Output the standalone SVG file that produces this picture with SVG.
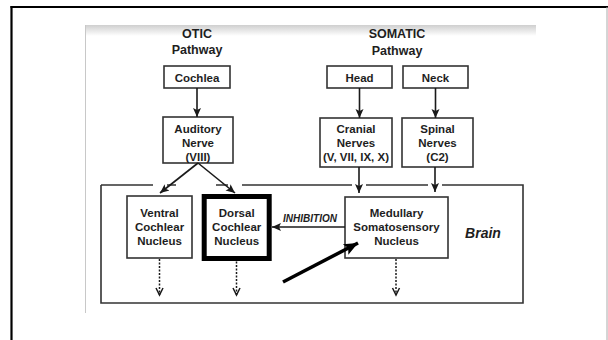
<svg xmlns="http://www.w3.org/2000/svg" width="608" height="340" viewBox="0 0 608 340">
<style>
.t{font-family:"Liberation Sans",Arial,sans-serif;font-weight:bold;font-size:11.5px;fill:#1e1e1e;text-anchor:middle}
.h{font-size:12.5px}
.box{fill:#fff;stroke:#333;stroke-width:1.6}
.c{stroke:#1a1a1a;stroke-width:1.6;fill:none}
.d{stroke:#1a1a1a;stroke-width:1.5;fill:none;stroke-dasharray:2,1.5}
</style>
<defs>
<linearGradient id="band" x1="0" y1="0" x2="0" y2="1">
<stop offset="0" stop-color="#cfcfcf"/>
<stop offset="1" stop-color="#ffffff"/>
</linearGradient>
<marker id="ah" markerUnits="userSpaceOnUse" markerWidth="10" markerHeight="10" refX="9" refY="5" orient="auto">
<path d="M0,1 L9,5 L0,9 L2,5 z" fill="#1a1a1a"/>
</marker>
<marker id="av" markerUnits="userSpaceOnUse" markerWidth="10" markerHeight="10" refX="8" refY="5" orient="auto">
<path d="M1,1.5 L8,5 L1,8.5" fill="none" stroke="#1a1a1a" stroke-width="1.5"/>
</marker>
<marker id="ab" markerUnits="userSpaceOnUse" markerWidth="16" markerHeight="16" refX="14" refY="8" orient="auto">
<path d="M0,2 L14,8 L0,14 L3,8 z" fill="#000"/>
</marker>
</defs>
<rect width="608" height="340" fill="#fff"/>
<g id="frame">
<line x1="11.5" y1="6" x2="11.5" y2="340" stroke="#000" stroke-width="2.2"/>
<line x1="10.5" y1="7" x2="608" y2="7" stroke="#000" stroke-width="2.2"/>
<line x1="607" y1="7" x2="607" y2="340" stroke="#aaa" stroke-width="1"/>
<rect x="85" y="25" width="451" height="11" fill="url(#band)"/>
<line x1="85.5" y1="25" x2="85.5" y2="313" stroke="#c8c8c8" stroke-width="1"/>
</g>
<g id="brain">
<path d="M101,185 L101,303 L523,303 L523,185 L442,185 M428,185 L366,185 M352,185 L242,185 M228,185 L216,185 M176,185 L167,185 M153,185 L101,185" fill="none" stroke="#333" stroke-width="1.6"/>
<text class="t" x="483" y="238" style="font-size:14px;font-style:italic">Brain</text>
</g>
<g id="otic-title"><text class="t h" x="197" y="38">OTIC</text><text class="t h" x="197" y="53.5">Pathway</text></g>
<g id="somatic-title"><text class="t h" x="397" y="38">SOMATIC</text><text class="t h" x="397" y="54.5">Pathway</text></g>
<g id="cochlea"><rect class="box" x="164" y="66" width="66" height="22"/><text class="t" x="197" y="81.5">Cochlea</text></g>
<g id="auditory"><rect class="box" x="163" y="117" width="70" height="46"/><text class="t" x="198" y="132.5">Auditory</text><text class="t" x="198" y="147">Nerve</text><text class="t" x="198" y="160.5">(VIII)</text></g>
<g id="head"><rect class="box" x="327" y="66" width="65" height="22"/><text class="t" x="359.5" y="81.5">Head</text></g>
<g id="neck"><rect class="box" x="403" y="66" width="65" height="22"/><text class="t" x="435.5" y="81.5">Neck</text></g>
<g id="cranial"><rect class="box" x="320" y="118" width="72" height="49"/><text class="t" x="356" y="132.5">Cranial</text><text class="t" x="356" y="146.5">Nerves</text><text class="t" x="356" y="160.5">(V, VII, IX, X)</text></g>
<g id="spinal"><rect class="box" x="402" y="118" width="71" height="49"/><text class="t" x="437.5" y="132.5">Spinal</text><text class="t" x="437.5" y="146.5">Nerves</text><text class="t" x="437.5" y="160.5">(C2)</text></g>
<g id="ventral"><rect class="box" x="127" y="196" width="65" height="62"/><text class="t" x="159.5" y="216.5">Ventral</text><text class="t" x="159.5" y="231">Cochlear</text><text class="t" x="159.5" y="244.5">Nucleus</text></g>
<g id="dorsal"><rect x="204.2" y="196.5" width="65" height="62" fill="#fff" stroke="#000" stroke-width="5"/><text class="t" x="236.7" y="216.5">Dorsal</text><text class="t" x="236.7" y="231">Cochlear</text><text class="t" x="236.7" y="244.5">Nucleus</text></g>
<g id="medullary"><rect class="box" x="345" y="197" width="103" height="61"/><text class="t" x="396.5" y="216.5">Medullary</text><text class="t" x="396.5" y="231">Somatosensory</text><text class="t" x="396.5" y="244.5">Nucleus</text></g>
<g id="connectors">
<line class="c" x1="197" y1="88" x2="197" y2="117" marker-end="url(#ah)"/>
<line class="c" x1="359.5" y1="88" x2="359.5" y2="118" marker-end="url(#ah)"/>
<line class="c" x1="435.5" y1="88" x2="435.5" y2="118" marker-end="url(#ah)"/>
<line class="c" x1="198" y1="163" x2="160" y2="193" marker-end="url(#ah)"/>
<line class="c" x1="198" y1="163" x2="235" y2="193" marker-end="url(#ah)"/>
<line class="c" x1="359" y1="167" x2="359" y2="193" marker-end="url(#ah)"/>
<line class="c" x1="435" y1="167" x2="435" y2="192" marker-end="url(#ah)"/>
<line class="c" x1="345" y1="227" x2="272" y2="227" marker-end="url(#ah)"/>
<text class="t" x="310" y="222" style="font-size:10px;font-style:italic">INHIBITION</text>
<line class="d" x1="159.5" y1="259" x2="159.5" y2="295" marker-end="url(#av)"/>
<line class="d" x1="236.5" y1="261.5" x2="236.5" y2="295" marker-end="url(#av)"/>
<line class="d" x1="396" y1="259" x2="396" y2="295" marker-end="url(#av)"/>
<line x1="283" y1="282" x2="358" y2="243" stroke="#000" stroke-width="3.5" marker-end="url(#ab)"/>
</g>
</svg>
